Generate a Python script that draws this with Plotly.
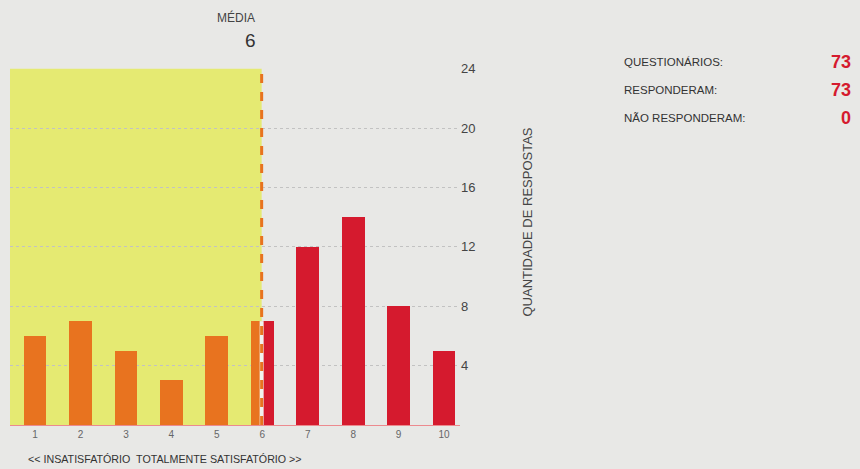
import plotly.graph_objects as go

# ---- data ----
scores = [1, 2, 3, 4, 5, 6, 7, 8, 9, 10]
counts = [6, 7, 5, 3, 6, 7, 12, 14, 8, 5]
y_ticks = [4, 8, 12, 16, 20, 24]
summary_labels = ["QUESTIONÁRIOS:", "RESPONDERAM:", "NÃO RESPONDERAM:"]
summary_values = [73, 73, 0]

mean = sum(s * c for s, c in zip(scores, counts)) / sum(counts)
mean_label = round(mean)

ORANGE = "#e8731f"
RED = "#d51a2e"
YELLOW = "#e5ea72"
BG = "#e8e8e6"
BW = 0.5

# bars below the mean are orange, above red; the bar at the mean is split in half
orange_x, orange_y, orange_w, orange_off = [], [], [], []
red_x, red_y, red_w, red_off = [], [], [], []
for s, c in zip(scores, counts):
    if s < mean_label:
        orange_x.append(s); orange_y.append(c); orange_w.append(BW); orange_off.append(-BW / 2)
    elif s > mean_label:
        red_x.append(s); red_y.append(c); red_w.append(BW); red_off.append(-BW / 2)
    else:
        orange_x.append(s); orange_y.append(c); orange_w.append(BW / 2); orange_off.append(-BW / 2)
        red_x.append(s); red_y.append(c); red_w.append(BW / 2); red_off.append(0)

fig = go.Figure()
fig.add_trace(go.Bar(x=orange_x, y=orange_y, width=orange_w, offset=orange_off,
                     marker=dict(color=ORANGE, line=dict(width=0)), showlegend=False,
                     hoverinfo="skip"))
fig.add_trace(go.Bar(x=red_x, y=red_y, width=red_w, offset=red_off,
                     marker=dict(color=RED, line=dict(width=0)), showlegend=False,
                     hoverinfo="skip"))

# yellow region up to the mean
fig.add_shape(type="rect", xref="x", yref="y", x0=0.45, x1=mean, y0=0, y1=max(y_ticks),
              fillcolor=YELLOW, line=dict(width=0), layer="below")
# light gap under the dashed mean line on the bar
fig.add_shape(type="line", xref="x", yref="y", x0=mean, x1=mean, y0=0,
              y1=counts[scores.index(mean_label)],
              line=dict(color="#f2f2ee", width=4))
# dashed mean line
fig.add_shape(type="line", xref="x", yref="y", x0=mean, x1=mean, y0=0, y1=max(y_ticks),
              line=dict(color=ORANGE, width=3, dash="dash"))

fig.update_layout(
    width=860, height=469,
    margin=dict(l=10, r=400, t=68, b=44),
    paper_bgcolor=BG, plot_bgcolor=BG,
    font=dict(family="Liberation Sans, Arial, sans-serif", color="#333333"),
    bargap=0,
    xaxis=dict(range=[0.45, 10.35], tickmode="array", tickvals=scores,
               ticktext=[str(s) for s in scores], tickfont=dict(size=10, color="#666666"),
               showgrid=False, zeroline=False, showline=True, linecolor="#ec8a8f",
               linewidth=1, ticks="", ticklen=0, fixedrange=True),
    yaxis=dict(range=[0, 24.05], side="right", tickmode="array", tickvals=y_ticks,
               tickfont=dict(size=13, color="#444444"), showgrid=True,
               gridcolor="#c2c2c2", griddash="dot", gridwidth=1, zeroline=False,
               showline=False, ticks="", ticklen=0, fixedrange=True),
)

H = 425 - 68  # plot-area height in px
def ypaper(px):
    return (425 - px) / H

fig.add_annotation(text="MÉDIA", xref="x", x=mean - 0.56, yref="paper", y=ypaper(17),
                   yanchor="middle", showarrow=False, font=dict(size=12, color="#444444"))
fig.add_annotation(text=str(mean_label), xref="x", x=mean - 0.24, yref="paper", y=ypaper(40),
                   yanchor="middle", showarrow=False, font=dict(size=19, color="#333333"))
fig.add_annotation(text="QUANTIDADE DE RESPOSTAS", xref="paper", x=(536 - 10) / 450,
                   yref="paper", y=ypaper(222), yanchor="middle", textangle=-90,
                   showarrow=False, font=dict(size=13, color="#444444"))
fig.add_annotation(text="<< INSATISFATÓRIO  TOTALMENTE SATISFATÓRIO >>", xref="x",
                   x=3.86, yref="paper", y=ypaper(459), yanchor="middle", showarrow=False,
                   font=dict(size=10.7, color="#333333"))

for i, (lab, val) in enumerate(zip(summary_labels, summary_values)):
    yp = ypaper(62 + i * 28)
    fig.add_annotation(text=lab, xref="paper", x=(622 - 10) / 450, xanchor="left",
                       yref="paper", y=yp, yanchor="middle", showarrow=False,
                       font=dict(size=11.5, color="#333333"))
    fig.add_annotation(text=f"<b>{val}</b>", xref="paper", x=(853 - 10) / 450,
                       xanchor="right", yref="paper", y=yp, yanchor="middle",
                       showarrow=False, font=dict(size=18, color=RED))

fig.write_html("out.html", config={"displayModeBar": False, "staticPlot": True},
               post_script="document.body.style.margin='0px';document.body.style.overflow='hidden';")
